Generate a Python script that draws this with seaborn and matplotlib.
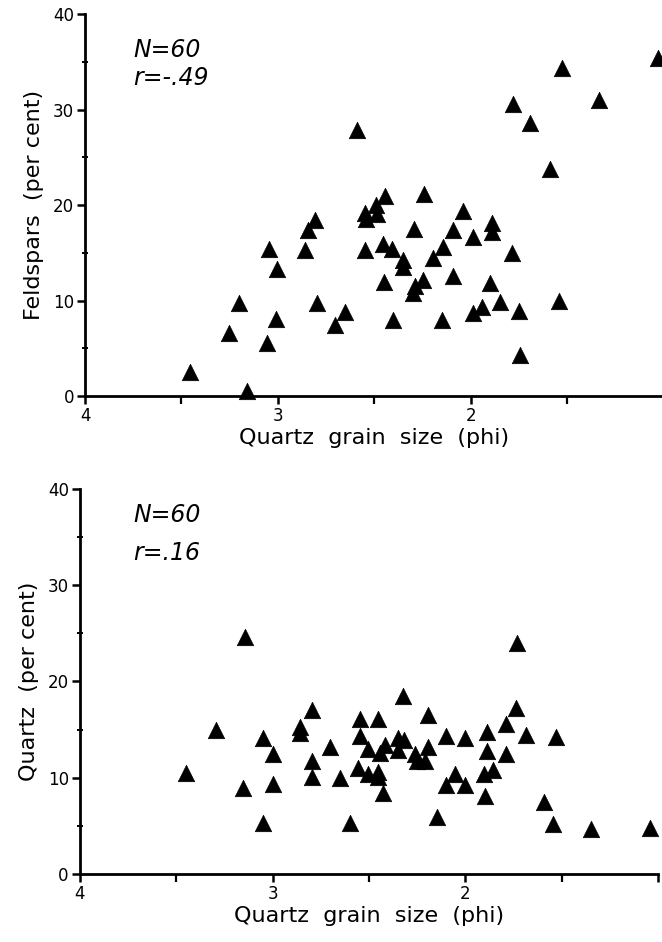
import matplotlib
matplotlib.use("Agg")
import matplotlib.pyplot as plt
from matplotlib.ticker import MultipleLocator, FixedLocator
import seaborn as sns
import pandas as pd

# Feldspar content vs. quartz grain size
feld_phi = [3.456, 3.162, 3.256, 3.202, 3.059, 3.010, 3.047, 3.004, 2.800, 2.860,
            2.843, 2.808, 2.705, 2.653, 2.589, 2.446, 2.492, 2.549, 2.489, 2.544,
            2.242, 2.295, 2.549, 2.454, 2.411, 2.350, 2.350, 2.144, 2.196, 2.449,
            2.247, 2.290, 2.300, 2.403, 2.152, 2.040, 2.092, 1.893, 1.893, 1.992,
            1.789, 2.092, 1.902, 1.850, 1.945, 1.988, 1.750, 1.543, 1.746, 1.530,
            1.030, 1.335, 1.781, 1.694, 1.591]
feld_pct = [2.5, 0.55, 6.6, 9.7, 5.6, 8.1, 15.4, 13.3, 9.7, 15.3,
            17.4, 18.4, 7.4, 8.8, 27.9, 20.9, 20.0, 19.2, 19.1, 18.5,
            21.2, 17.5, 15.3, 15.9, 15.4, 14.2, 13.5, 15.6, 14.5, 11.9,
            12.1, 11.5, 10.75, 8.0, 8.0, 19.4, 17.4, 18.1, 17.2, 16.6,
            15.0, 12.6, 11.8, 9.8, 9.3, 8.7, 8.9, 9.9, 4.3, 34.3,
            35.4, 31.0, 30.6, 28.6, 23.8]

# Quartz content vs. quartz grain size
qtz_phi = [3.452, 3.294, 3.156, 3.144, 3.049, 3.000, 3.000, 3.052, 2.858, 2.858,
           2.798, 2.798, 2.798, 2.703, 2.651, 2.599, 2.547, 2.452, 2.547, 2.504,
           2.443, 2.417, 2.348, 2.319, 2.348, 2.262, 2.192, 2.250, 2.210, 2.556,
           2.504, 2.452, 2.452, 2.426, 2.322, 2.192, 2.149, 2.098, 2.000, 2.054,
           2.098, 2.000, 1.889, 1.889, 1.902, 1.854, 1.897, 1.790, 1.738, 1.790,
           1.686, 1.530, 1.734, 1.590, 1.547, 1.345, 1.042]
qtz_pct = [10.5, 15.0, 8.9, 24.6, 14.1, 12.5, 9.4, 5.3, 15.3, 14.6,
           17.0, 11.7, 10.1, 13.2, 10.0, 5.3, 16.1, 16.1, 14.3, 13.0,
           12.6, 13.4, 14.1, 13.9, 12.9, 12.5, 13.2, 11.7, 11.7, 11.0,
           10.4, 10.6, 10.1, 8.4, 18.5, 16.5, 5.9, 14.3, 14.1, 10.4,
           9.2, 9.2, 14.8, 12.8, 10.4, 10.8, 8.1, 15.6, 17.2, 12.5,
           14.4, 14.2, 24.0, 7.5, 5.2, 4.7, 4.8]

x_major = [4, 3, 2, 1]
x_major_labels = ["4", "3", "2", ""]
x_minor = [3.5, 2.5, 1.5]
y_major = [0, 10, 20, 30, 40]

sns.set_style("ticks")
plt.rcParams["font.family"] = ["DejaVu Sans"]
plt.rcParams["text.color"] = "black"
plt.rcParams["axes.labelcolor"] = "black"

fig = plt.figure(figsize=(6.62, 9.42), dpi=100)
ax_top = fig.add_axes([0.1284, 0.5796, 0.8746, 0.4055])
ax_bot = fig.add_axes([0.1208, 0.0722, 0.8731, 0.4087])

panels = [
    (ax_top, feld_phi, feld_pct, "Feldspars  (per cent)", ["N=60", "r=-.49"],
     (0.083, 0.887, 0.814)),
    (ax_bot, qtz_phi, qtz_pct, "Quartz  (per cent)", ["N=60", "r=.16"],
     (0.092, 0.914, 0.816)),
]

for ax, xs, ys, ylab, notes, (tx, ty1, ty2) in panels:
    df = pd.DataFrame({"phi": xs, "pct": ys})
    sns.scatterplot(data=df, x="phi", y="pct", ax=ax, marker="^", s=140,
                    color="black", edgecolor="black", linewidth=0.5,
                    clip_on=False, zorder=3)
    ax.set_xlim(4, 1)
    ax.set_ylim(0, 40)
    ax.xaxis.set_major_locator(FixedLocator(x_major))
    ax.set_xticklabels(x_major_labels)
    ax.xaxis.set_minor_locator(FixedLocator(x_minor))
    ax.yaxis.set_major_locator(FixedLocator(y_major))
    ax.yaxis.set_minor_locator(MultipleLocator(5))
    for side in ("top", "right"):
        ax.spines[side].set_visible(False)
    for side in ("left", "bottom"):
        ax.spines[side].set_linewidth(2.0)
        ax.spines[side].set_color("black")
    ax.tick_params(axis="both", which="major", direction="out", length=6,
                   width=1.8, labelsize=12, colors="black", pad=2)
    ax.tick_params(axis="y", which="minor", direction="inout", length=5,
                   width=1.4, colors="black")
    ax.tick_params(axis="x", which="minor", direction="out", length=6,
                   width=1.6, colors="black")
    ax.set_xlabel("Quartz  grain  size  (phi)", fontsize=16, labelpad=2)
    ax.set_ylabel(ylab, fontsize=16, labelpad=6)
    ax.text(tx, ty1, notes[0], transform=ax.transAxes, fontsize=17,
            style="italic", va="baseline", ha="left")
    ax.text(tx, ty2, notes[1], transform=ax.transAxes, fontsize=17,
            style="italic", va="baseline", ha="left")
    ax.set_facecolor("white")

fig.savefig("out.png", dpi=100, facecolor="white")
